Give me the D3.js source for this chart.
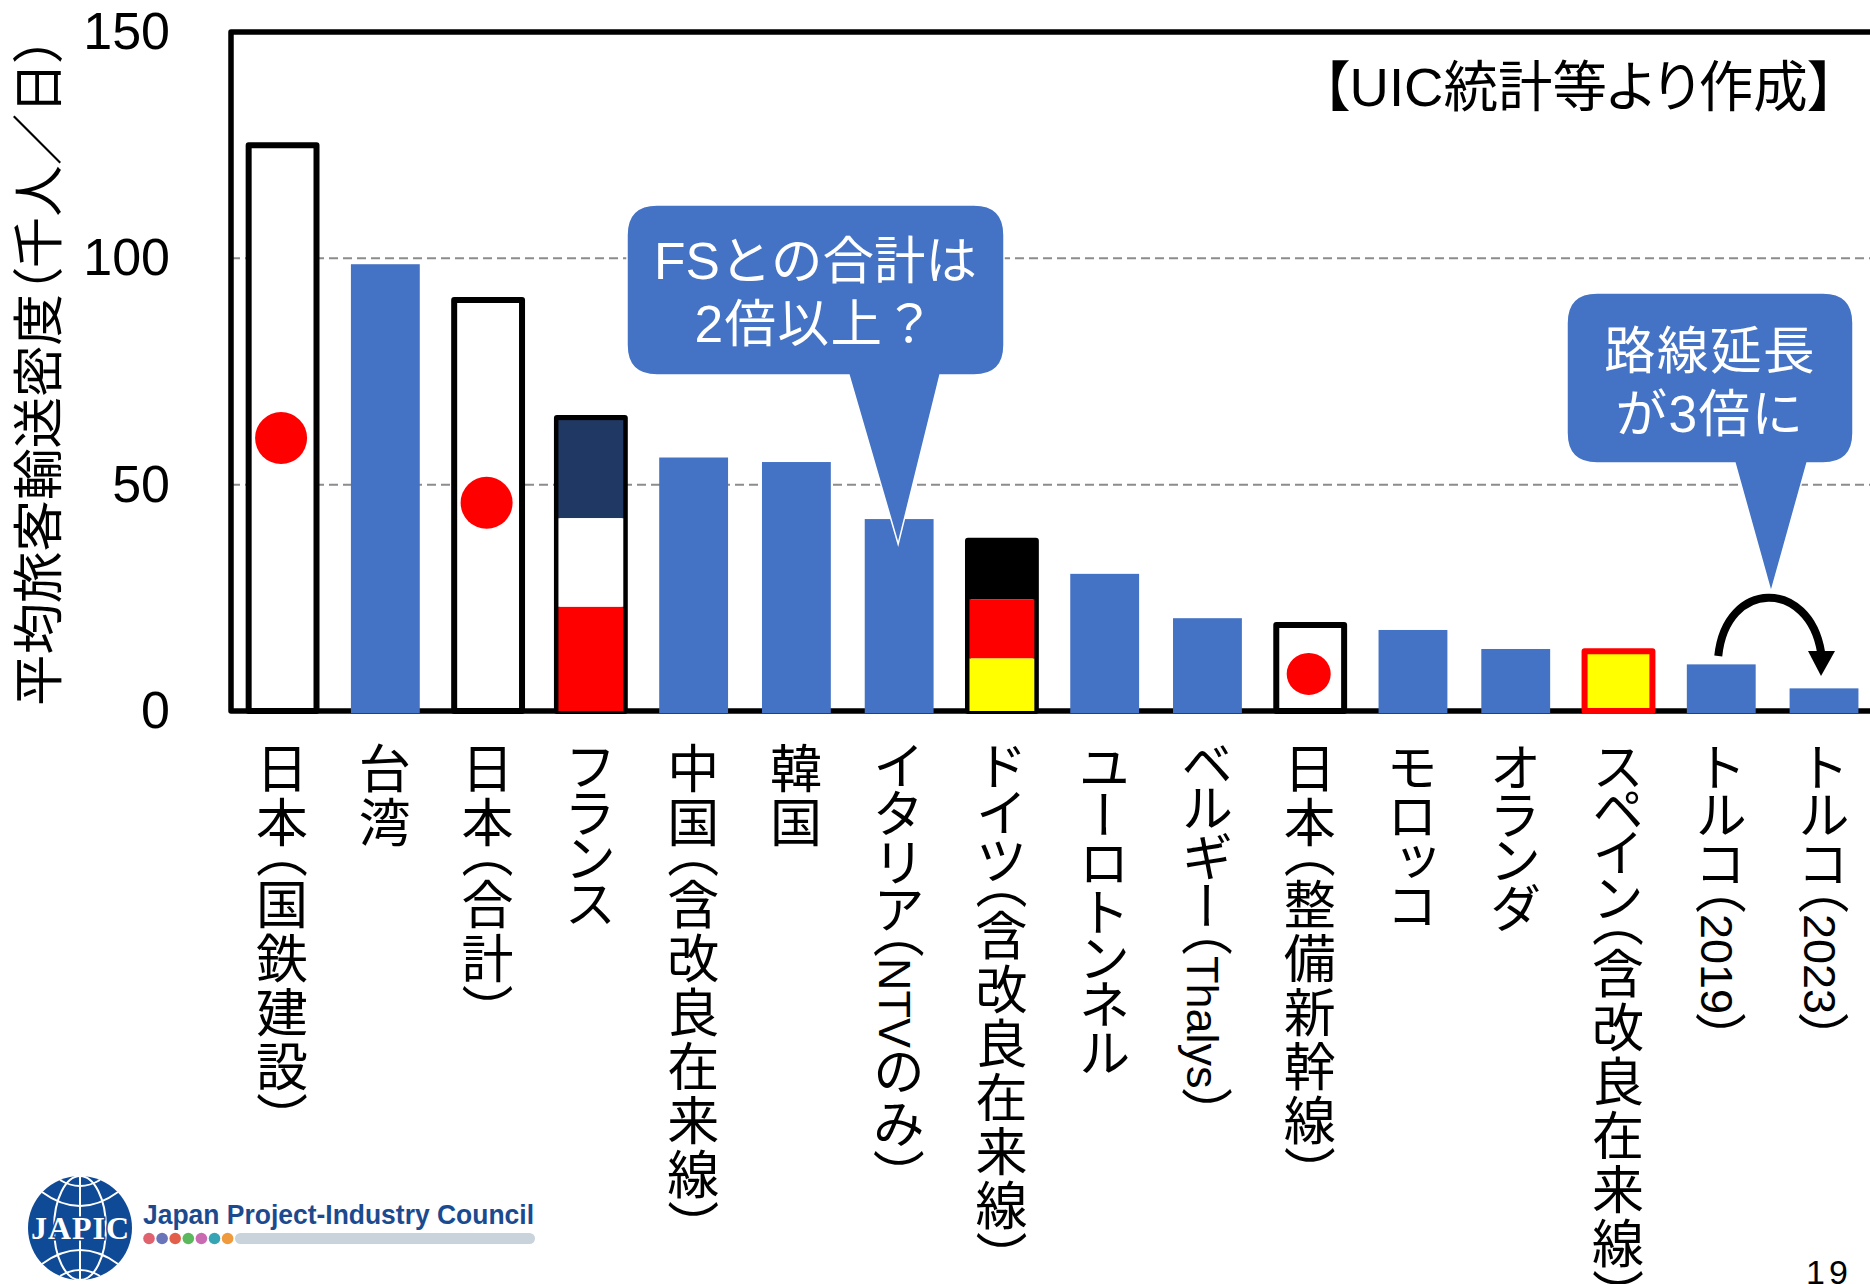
<!DOCTYPE html>
<html>
<head>
<meta charset="utf-8">
<script src="https://cdn.jsdelivr.net/npm/d3@7"></script>
<style>
    html, body { margin: 0; padding: 0; background: #fff; overflow: hidden; }
    svg { display: block; }
    text { font-family: "Liberation Sans", "Noto Sans CJK JP", sans-serif; }
    .cat text { writing-mode: vertical-rl; font-feature-settings: "vpal"; }
</style>
</head>
<body>
<script>
// values
var categories = ["日本（国鉄建設）", "台湾", "日本（合計）", "フランス", "中国（含改良在来線）", "韓国",
    "イタリア（NTVのみ）", "ドイツ（含改良在来線）", "ユーロトンネル", "ベルギー（Thalys）", "日本（整備新幹線）",
    "モロッコ", "オランダ", "スペイン（含改良在来線）", "トルコ（2019）", "トルコ（2023）"];
var values = [125, 98.7, 90.8, 64.7, 56, 55, 42.4, 37.6, 30.3, 20.5, 19, 17.9, 13.7, 13.2, 10.3, 5];

var hollowBars = ["日本（国鉄建設）", "日本（合計）", "日本（整備新幹線）"];
var dotValues = [60.3, 46, 8.2];

var franceBar = "フランス";
var franceBands = [64.7, 42.6, 23];
var germanyBar = "ドイツ（含改良在来線）";
var germanyBands = [37.6, 24.7, 11.6];
var spainBar = "スペイン（含改良在来線）";

var yTicks = [0, 50, 100, 150];
var gridTicks = [50, 100];
var yTitle = "平均旅客輸送密度（千人／日）";
var sourceNote = "【UIC統計等より作成】";
var italyNote = ["FSとの合計は", "2倍以上？"];
var turkeyNote = ["路線延長", "が3倍に"];
var logoDots = ["#e0626f", "#6a74b8", "#e2604a", "#5cb85c", "#c96bb0", "#35a5b5", "#ef9a3c"];

var width = 1870, height = 1284;
var BLUE = "#4472C4", NAVY = "#1F3864";

var svg = d3.select("body").append("svg")
    .attr("width", width)
    .attr("height", height);

var y = d3.scaleLinear().domain([0, 150]).range([711, 32]);
var x = d3.scaleBand().domain(categories).range([231.2, 1875.4]).paddingInner(0.33).paddingOuter(0.165);

// dashed grid goes behind everything
svg.append("g").selectAll("line")
    .data(gridTicks)
    .join("line")
    .attr("x1", 231).attr("x2", width)
    .attr("y1", function(d) { return y(d); })
    .attr("y2", function(d) { return y(d); })
    .attr("stroke", "#8c8c8c")
    .attr("stroke-width", 2)
    .attr("stroke-dasharray", "9 5");

// frame
svg.append("path")
    .attr("d", "M" + (width + 10) + "," + y(150) + "H231V" + y(0) + "H" + (width + 10))
    .attr("fill", "none")
    .attr("stroke", "#000")
    .attr("stroke-width", 5.5)
    .attr("stroke-linejoin", "round");

// y axis
var yAxis = svg.append("g")
    .attr("transform", "translate(231,0)")
    .call(d3.axisLeft(y).tickValues(yTicks).tickSize(0));
yAxis.select(".domain").remove();
yAxis.selectAll("text")
    .attr("x", -61)
    .attr("font-size", 52)
    .attr("fill", "#000")
    .style("font-family", '"Liberation Sans", sans-serif');

svg.append("text")
    .attr("transform", "translate(57,706) rotate(-90)")
    .attr("font-size", 51.5)
    .style("font-feature-settings", '"palt"')
    .text(yTitle);

// x labels: latin set smaller, katakana a bit tighter than the kanji
var xAxis = svg.append("g")
    .attr("class", "cat")
    .attr("transform", "translate(0," + y(0) + ")")
    .call(d3.axisBottom(x).tickSize(0));
xAxis.select(".domain").remove();
xAxis.selectAll("text")
    .attr("x", -5)
    .attr("y", 31)
    .attr("dy", 0)
    .attr("text-anchor", "start")
    .attr("font-size", 52)
    .attr("letter-spacing", 2)
    .attr("fill", "#000")
    .each(function(d) {
        var t = d3.select(this).text("");
        d.split(/([A-Za-z0-9]+|[ァ-ヶー]+)/).forEach(function(part) {
            if (!part) return;
            var span = t.append("tspan").text(part);
            if (/[A-Za-z0-9]/.test(part))
                span.attr("font-size", 45).attr("letter-spacing", 0);
            else if (/[ァ-ヶー]/.test(part))
                span.attr("letter-spacing", -1.5);
        });
    });

// plain blue bars
var special = hollowBars.concat([franceBar, germanyBar, spainBar]);
svg.append("g").selectAll("rect")
    .data(categories.filter(function(c) { return special.indexOf(c) < 0; }))
    .join("rect")
    .attr("x", function(d) { return x(d); })
    .attr("y", function(d) { return y(values[categories.indexOf(d)]); })
    .attr("width", x.bandwidth())
    .attr("height", function(d) { return y(0) - y(values[categories.indexOf(d)]) + 2; })
    .attr("fill", BLUE);

function outlined(name, fill, stroke) {
    svg.append("rect")
        .attr("x", x(name) + 0.5)
        .attr("y", y(values[categories.indexOf(name)]))
        .attr("width", x.bandwidth() - 1)
        .attr("height", y(0) - y(values[categories.indexOf(name)]))
        .attr("fill", fill)
        .attr("stroke", stroke)
        .attr("stroke-width", 6)
        .attr("stroke-linejoin", "round");
}

// Japan: white bar with red dot
hollowBars.forEach(function(name, i) {
    outlined(name, "#fff", "#000");
    svg.append("ellipse")
        .attr("cx", x(name) + x.bandwidth() / 2 - 1.5)
        .attr("cy", y(dotValues[i]))
        .attr("rx", i == 2 ? 22 : 26)
        .attr("ry", i == 2 ? 21 : 26)
        .attr("fill", "#f00");
});

// flag bars
function flag(name, bands, colors) {
    outlined(name, "#fff", "#000");
    bands.forEach(function(v, i) {
        var next = i + 1 < bands.length ? bands[i + 1] : 0;
        svg.append("rect")
            .attr("x", x(name) + 2)
            .attr("y", y(v) + (i == 0 ? 2 : 0))
            .attr("width", x.bandwidth() - 4)
            .attr("height", y(next) - y(v) - (i == 0 ? 2 : 0))
            .attr("fill", colors[i]);
    });
}
flag(franceBar, franceBands, [NAVY, "#fff", "#f00"]);
flag(germanyBar, germanyBands, ["#000", "#f00", "#ff0"]);
outlined(spainBar, "#ff0", "#f00");

// source note
svg.append("text")
    .attr("x", 1835)
    .attr("y", 106)
    .attr("text-anchor", "end")
    .attr("font-size", 54.5)
    .style("font-feature-settings", '"palt"')
    .text(sourceNote);

// callouts
function callout(x0, y0, x1, y1, r, b0, b1, tipX, tipY, lines, baselines) {
    var d = "M" + (x0 + r) + "," + y0 + "H" + (x1 - r) + "Q" + x1 + "," + y0 + " " + x1 + "," + (y0 + r)
        + "V" + (y1 - r) + "Q" + x1 + "," + y1 + " " + (x1 - r) + "," + y1
        + "H" + b1 + "L" + tipX + "," + tipY + "L" + b0 + "," + y1
        + "H" + (x0 + r) + "Q" + x0 + "," + y1 + " " + x0 + "," + (y1 - r)
        + "V" + (y0 + r) + "Q" + x0 + "," + y0 + " " + (x0 + r) + "," + y0 + "Z";
    svg.append("path").attr("d", d).attr("fill", BLUE).attr("stroke", "#fff").attr("stroke-width", 1.5);
    lines.forEach(function(t, i) {
        svg.append("text")
            .attr("x", (x0 + x1) / 2)
            .attr("y", baselines[i])
            .attr("text-anchor", "middle")
            .attr("font-size", 51.5)
            .attr("letter-spacing", t == italyNote[0] ? 0 : 1.5)
            .attr("fill", "#fff")
            .text(t);
    });
}
var italy = categories[6];
callout(627, 205, 1004, 375, 30, 849, 940, x(italy) + x.bandwidth() / 2 - 1, 544, italyNote, [279, 342]);
callout(1567, 293, 1853, 463, 30, 1735, 1807, 1771, 592, turkeyNote, [369, 432]);

// arrow between the two Turkey bars
var from = categories[14], to = categories[15];
var ax = x(from) + x.bandwidth() / 2 - 3, bx = x(to) + x.bandwidth() / 2 - 3;
svg.append("path")
    .attr("d", "M" + ax + ",656C" + (ax + 8) + ",579 " + (bx - 12) + ",579 " + bx + ",652")
    .attr("fill", "none")
    .attr("stroke", "#000")
    .attr("stroke-width", 8);
svg.append("path")
    .attr("d", "M" + (bx - 13) + ",651H" + (bx + 14) + "L" + bx + ",676Z")
    .attr("fill", "#000");

// logo
var logo = svg.append("g").attr("transform", "translate(80,1228)");
logo.append("ellipse").attr("rx", 52).attr("ry", 52).attr("fill", "#0f4a96");
var wire = logo.append("g").attr("fill", "none").attr("stroke", "#fff").attr("stroke-width", 2);
wire.append("line").attr("y1", -52).attr("y2", 52);
wire.append("ellipse").attr("rx", 26).attr("ry", 52);
wire.append("path").attr("d", "M-38,-36Q0,-8 38,-36");
wire.append("path").attr("d", "M-38,36Q0,8 38,36");
wire.append("path").attr("d", "M-20,-48Q0,-36 20,-48");
wire.append("path").attr("d", "M-20,48Q0,36 20,48");
logo.append("text")
    .attr("y", 11)
    .attr("text-anchor", "middle")
    .attr("font-size", 32)
    .attr("font-weight", "bold")
    .attr("fill", "#fff")
    .attr("stroke", "#0f4a96")
    .attr("stroke-width", 3)
    .attr("paint-order", "stroke")
    .style("font-family", '"Liberation Serif", serif')
    .attr("textLength", 98)
    .text("JAPIC");
svg.append("text")
    .attr("x", 143)
    .attr("y", 1224)
    .attr("font-size", 27)
    .attr("font-weight", "bold")
    .attr("fill", "#1c4a8f")
    .attr("textLength", 391)
    .attr("lengthAdjust", "spacingAndGlyphs")
    .text("Japan Project-Industry Council");
svg.append("rect")
    .attr("x", 235).attr("y", 1233).attr("width", 300).attr("height", 11).attr("rx", 5.5)
    .attr("fill", "#c9d3dc");
svg.append("g").selectAll("circle")
    .data(logoDots)
    .join("circle")
    .attr("cx", function(d, i) { return 149 + i * 13.1; })
    .attr("cy", 1238.5)
    .attr("r", 5.8)
    .attr("fill", function(d) { return d; });

// page number
svg.append("text")
    .attr("x", 1806)
    .attr("y", 1284)
    .attr("font-size", 34)
    .attr("letter-spacing", 4)
    .text("19");
</script>
</body>
</html>
